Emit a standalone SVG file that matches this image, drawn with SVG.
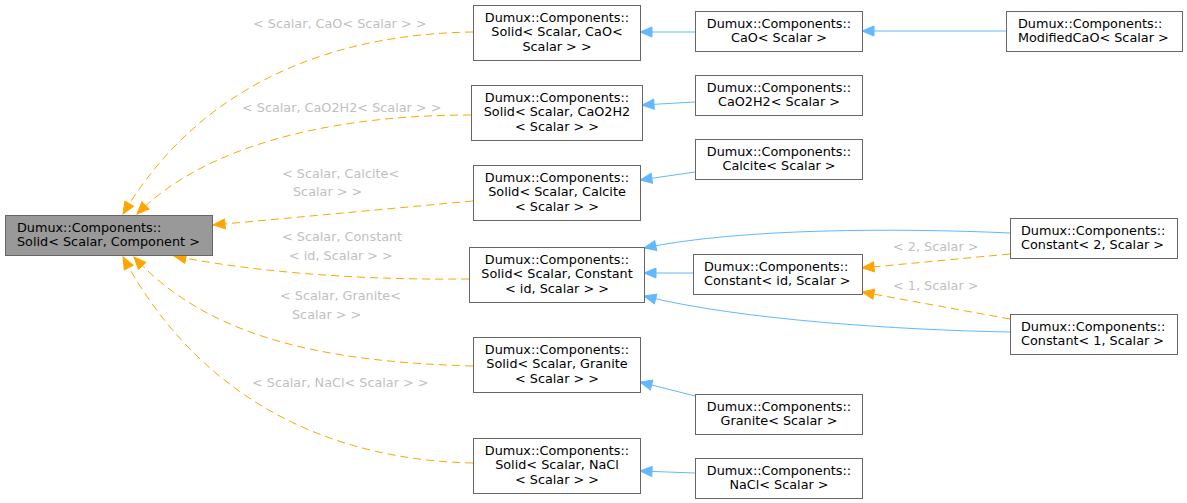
<svg xmlns="http://www.w3.org/2000/svg" width="1187" height="503" viewBox="0 0 1187 503">
<style>
.n rect{fill:#ffffff;stroke:#666666;stroke-width:1}
#root rect{fill:#999999}
text{font-family:"DejaVu Sans","Liberation Sans",sans-serif;font-size:12.8px;fill:#000000}
.c{text-anchor:middle}
.lbl{fill:#bfbfbf}
.b{fill:none;stroke:#63b8ff;stroke-width:1;marker-end:url(#ab)}
.o{fill:none;stroke:#ffa500;stroke-width:1;stroke-dasharray:8,5;marker-end:url(#ao)}
</style>
<defs>
<marker id="ab" markerUnits="userSpaceOnUse" markerWidth="14" markerHeight="12" viewBox="0 0 14 12" refX="13" refY="6" orient="auto"><path d="M1,1 L13,6 L1,11 z" fill="#63b8ff" stroke="#63b8ff"/></marker>
<marker id="ao" markerUnits="userSpaceOnUse" markerWidth="14" markerHeight="12" viewBox="0 0 14 12" refX="13" refY="6" orient="auto"><path d="M1,1 L13,6 L1,11 z" fill="#ffa500" stroke="#ffa500"/></marker>
</defs>
<rect width="1187" height="503" fill="#ffffff"/>
<g id="connectors">
<path class="o" d="M473,32 C330,34 200,85 123,214"/>
<path class="o" d="M471,115 C320,115 200,150 137,214"/>
<path class="o" d="M473,201 L213,225"/>
<path class="o" d="M469,279 C380,280 270,275 174,256"/>
<path class="o" d="M473,366 C330,362 210,340 134,257"/>
<path class="o" d="M473,463 C330,460 200,400 123,257"/>
<path class="b" d="M695,32 L640,32"/>
<path class="b" d="M1006,31 L862,31"/>
<path class="b" d="M695,102 L642,105"/>
<path class="b" d="M695,172 L640,180"/>
<path class="b" d="M1010,233 C900,228 740,228 644,248"/>
<path class="b" d="M693,273 L644,273"/>
<path class="b" d="M1010,332 C900,330 740,320 644,296"/>
<path class="b" d="M695,396 L640,382"/>
<path class="b" d="M695,473 L640,471"/>
<path class="o" d="M1010,254 L862,268"/>
<path class="o" d="M1010,319 L862,292"/>
<text class="lbl" x="253" y="27.5">&lt; Scalar, CaO&lt; Scalar &gt; &gt;</text>
<text class="lbl" x="242" y="111.5">&lt; Scalar, CaO2H2&lt; Scalar &gt; &gt;</text>
<text class="lbl" x="282" y="177.5">&lt; Scalar, Calcite&lt;</text>
<text class="lbl" x="293" y="196">Scalar &gt; &gt;</text>
<text class="lbl" x="282" y="240.5">&lt; Scalar, Constant</text>
<text class="lbl" x="289" y="260">&lt; id, Scalar &gt; &gt;</text>
<text class="lbl" x="280" y="299.5">&lt; Scalar, Granite&lt;</text>
<text class="lbl" x="292" y="318.5">Scalar &gt; &gt;</text>
<text class="lbl" x="252" y="386.5">&lt; Scalar, NaCl&lt; Scalar &gt; &gt;</text>
<text class="lbl" x="893" y="250.5">&lt; 2, Scalar &gt;</text>
<text class="lbl" x="893" y="289.5">&lt; 1, Scalar &gt;</text>
</g>
<g id="root" class="n"><rect x="5.5" y="215.5" width="207" height="40"/><text x="17" y="231.5">Dumux::Components::</text><text x="17" y="246">Solid&lt; Scalar, Component &gt;</text></g>
<g id="solid_cao" class="n"><rect x="473.5" y="5.5" width="167" height="55"/><text class="c" x="557" y="21.5">Dumux::Components::</text><text class="c" x="557" y="36">Solid&lt; Scalar, CaO&lt;</text><text class="c" x="557" y="50.5">Scalar &gt; &gt;</text></g>
<g id="cao" class="n"><rect x="695.5" y="11.5" width="167" height="40"/><text class="c" x="779" y="27.5">Dumux::Components::</text><text class="c" x="779" y="42">CaO&lt; Scalar &gt;</text></g>
<g id="modifiedcao" class="n"><rect x="1006.5" y="11.5" width="176" height="40"/><text x="1018" y="27.5">Dumux::Components::</text><text x="1018" y="42">ModifiedCaO&lt; Scalar &gt;</text></g>
<g id="solid_cao2h2" class="n"><rect x="471.5" y="85.5" width="171" height="55"/><text class="c" x="557" y="101.5">Dumux::Components::</text><text class="c" x="557" y="116">Solid&lt; Scalar, CaO2H2</text><text class="c" x="557" y="130.5">&lt; Scalar &gt; &gt;</text></g>
<g id="cao2h2" class="n"><rect x="695.5" y="75.5" width="167" height="40"/><text class="c" x="779" y="91.5">Dumux::Components::</text><text class="c" x="779" y="106">CaO2H2&lt; Scalar &gt;</text></g>
<g id="calcite" class="n"><rect x="695.5" y="139.5" width="167" height="40"/><text class="c" x="779" y="155.5">Dumux::Components::</text><text class="c" x="779" y="170">Calcite&lt; Scalar &gt;</text></g>
<g id="solid_calcite" class="n"><rect x="473.5" y="165.5" width="167" height="55"/><text class="c" x="557" y="181.5">Dumux::Components::</text><text class="c" x="557" y="196">Solid&lt; Scalar, Calcite</text><text class="c" x="557" y="210.5">&lt; Scalar &gt; &gt;</text></g>
<g id="solid_constant" class="n"><rect x="469.5" y="247.5" width="175" height="55"/><text class="c" x="557" y="263.5">Dumux::Components::</text><text class="c" x="557" y="278">Solid&lt; Scalar, Constant</text><text class="c" x="557" y="292.5">&lt; id, Scalar &gt; &gt;</text></g>
<g id="constant_id" class="n"><rect x="693.5" y="254.5" width="169" height="40"/><text x="704" y="270.5">Dumux::Components::</text><text x="704" y="285">Constant&lt; id, Scalar &gt;</text></g>
<g id="constant_2" class="n"><rect x="1010.5" y="218.5" width="167" height="40"/><text x="1021" y="234.5">Dumux::Components::</text><text x="1021" y="249">Constant&lt; 2, Scalar &gt;</text></g>
<g id="constant_1" class="n"><rect x="1010.5" y="314.5" width="167" height="40"/><text x="1021" y="330.5">Dumux::Components::</text><text x="1021" y="345">Constant&lt; 1, Scalar &gt;</text></g>
<g id="solid_granite" class="n"><rect x="473.5" y="337.5" width="167" height="55"/><text class="c" x="557" y="353.5">Dumux::Components::</text><text class="c" x="557" y="368">Solid&lt; Scalar, Granite</text><text class="c" x="557" y="382.5">&lt; Scalar &gt; &gt;</text></g>
<g id="granite" class="n"><rect x="695.5" y="394.5" width="167" height="40"/><text class="c" x="779" y="410.5">Dumux::Components::</text><text class="c" x="779" y="425">Granite&lt; Scalar &gt;</text></g>
<g id="solid_nacl" class="n"><rect x="473.5" y="438.5" width="167" height="55"/><text class="c" x="557" y="454.5">Dumux::Components::</text><text class="c" x="557" y="469">Solid&lt; Scalar, NaCl</text><text class="c" x="557" y="483.5">&lt; Scalar &gt; &gt;</text></g>
<g id="nacl" class="n"><rect x="695.5" y="458.5" width="167" height="40"/><text class="c" x="779" y="474.5">Dumux::Components::</text><text class="c" x="779" y="489">NaCl&lt; Scalar &gt;</text></g>
</svg>
